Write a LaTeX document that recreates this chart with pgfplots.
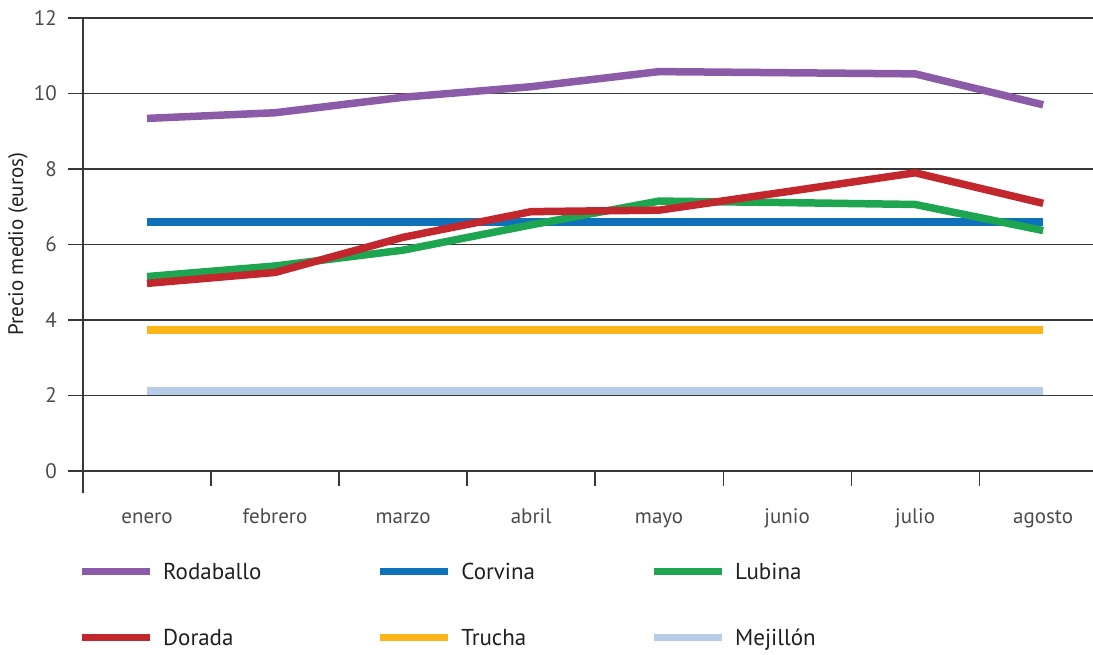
\documentclass[border=0pt]{standalone}
\usepackage{pgfplots}
\pgfplotsset{compat=1.18}
\usepackage{fontspec}
\setmainfont{PT Sans}
\definecolor{cRod}{RGB}{140,91,168}
\definecolor{cCor}{RGB}{15,113,186}
\definecolor{cLub}{RGB}{30,165,80}
\definecolor{cDor}{RGB}{193,39,45}
\definecolor{cTru}{RGB}{251,181,25}
\definecolor{cMej}{RGB}{183,204,231}
\definecolor{cGrid}{RGB}{55,55,55}
\definecolor{cTick}{RGB}{75,75,75}
\definecolor{cText}{RGB}{35,31,32}
\begin{document}
\begin{tikzpicture}
\begin{axis}[
  at={(83pt,161pt)}, anchor=south west,
  scale only axis, width=1010pt, height=475pt,
  xmin=-0.5, xmax=7.39, ymin=-0.583, ymax=12,
  axis x line*=middle, axis y line*=left,
  hide obscured x ticks=false, hide obscured y ticks=false,
  axis line style={cGrid, line width=1.2pt},
  xtick={0,...,7},
  xticklabels={enero,febrero,marzo,abril,mayo,junio,julio,agosto},
  minor xtick={0.5,1.5,...,6.5},
  ytick={0,2,...,12},
  ymajorgrids,
  grid style={cGrid, line width=1.2pt},
  tick align=outside,
  major tick length=15pt, minor tick length=15pt,
  major x tick style={draw=none},
  minor x tick style={cGrid, line width=1.2pt},
  major y tick style={cGrid, line width=1.2pt},
  /pgf/number format/assume math mode=true,
  tick label style={font=\fontsize{21}{24}\selectfont, text=cTick},
  xticklabel style={anchor=base, yshift=-38pt},
  yticklabel style={anchor=east, inner sep=0pt, xshift=-11pt},
  every axis y label/.style={at={(axis description cs:-0.0644,0.524)}, rotate=90, anchor=center},
  ylabel={Precio medio (euros)},
  ylabel style={font=\fontsize{21}{24}\selectfont, text=cText},
  legend columns=3,
  legend cell align=left,
  legend image code/.code={\draw[#1, line width=7pt] (0pt,0pt) -- (68pt,0pt);},
  legend style={at={(axis description cs:-0.005,-0.147)}, anchor=north west, draw=none, fill=none,
    inner sep=0pt, row sep=48pt,
    font=\fontsize{23}{27}\selectfont, text=cText,
    nodes={inner sep=0pt},
    /tikz/every odd column/.append style={column sep=10pt},
    /tikz/every even column/.append style={column sep=115pt}},
]
\addlegendimage{color=cRod}\addlegendentry{Rodaballo}
\addlegendimage{color=cCor}\addlegendentry{Corvina}
\addlegendimage{color=cLub}\addlegendentry{Lubina}
\addlegendimage{color=cDor}\addlegendentry{Dorada}
\addlegendimage{color=cTru}\addlegendentry{Trucha}
\addlegendimage{color=cMej}\addlegendentry{Mejillón}

\addplot[forget plot, cMej, line width=7.5pt] coordinates {(0,2.12) (1,2.12) (2,2.12) (3,2.12) (4,2.12) (5,2.12) (6,2.12) (7,2.12)};
\addplot[forget plot, cTru, line width=7.5pt] coordinates {(0,3.74) (1,3.74) (2,3.74) (3,3.74) (4,3.74) (5,3.74) (6,3.74) (7,3.74)};
\addplot[forget plot, cCor, line width=7.5pt] coordinates {(0,6.6) (1,6.6) (2,6.6) (3,6.6) (4,6.6) (5,6.6) (6,6.6) (7,6.6)};
\addplot[forget plot, cLub, line width=7.5pt] coordinates {(0,5.15) (1,5.43) (2,5.85) (3,6.52) (4,7.15) (5,7.11) (6,7.06) (7,6.37)};
\addplot[forget plot, cDor, line width=7.5pt] coordinates {(0,4.97) (1,5.26) (2,6.19) (3,6.87) (4,6.91) (5,7.40) (6,7.90) (7,7.09)};
\addplot[forget plot, cRod, line width=7.5pt] coordinates {(0,9.34) (1,9.49) (2,9.90) (3,10.18) (4,10.58) (5,10.55) (6,10.52) (7,9.70)};
\end{axis}
\pgfresetboundingbox
\path[use as bounding box] (0,0) rectangle (1093pt,654pt);
\end{tikzpicture}
\end{document}
